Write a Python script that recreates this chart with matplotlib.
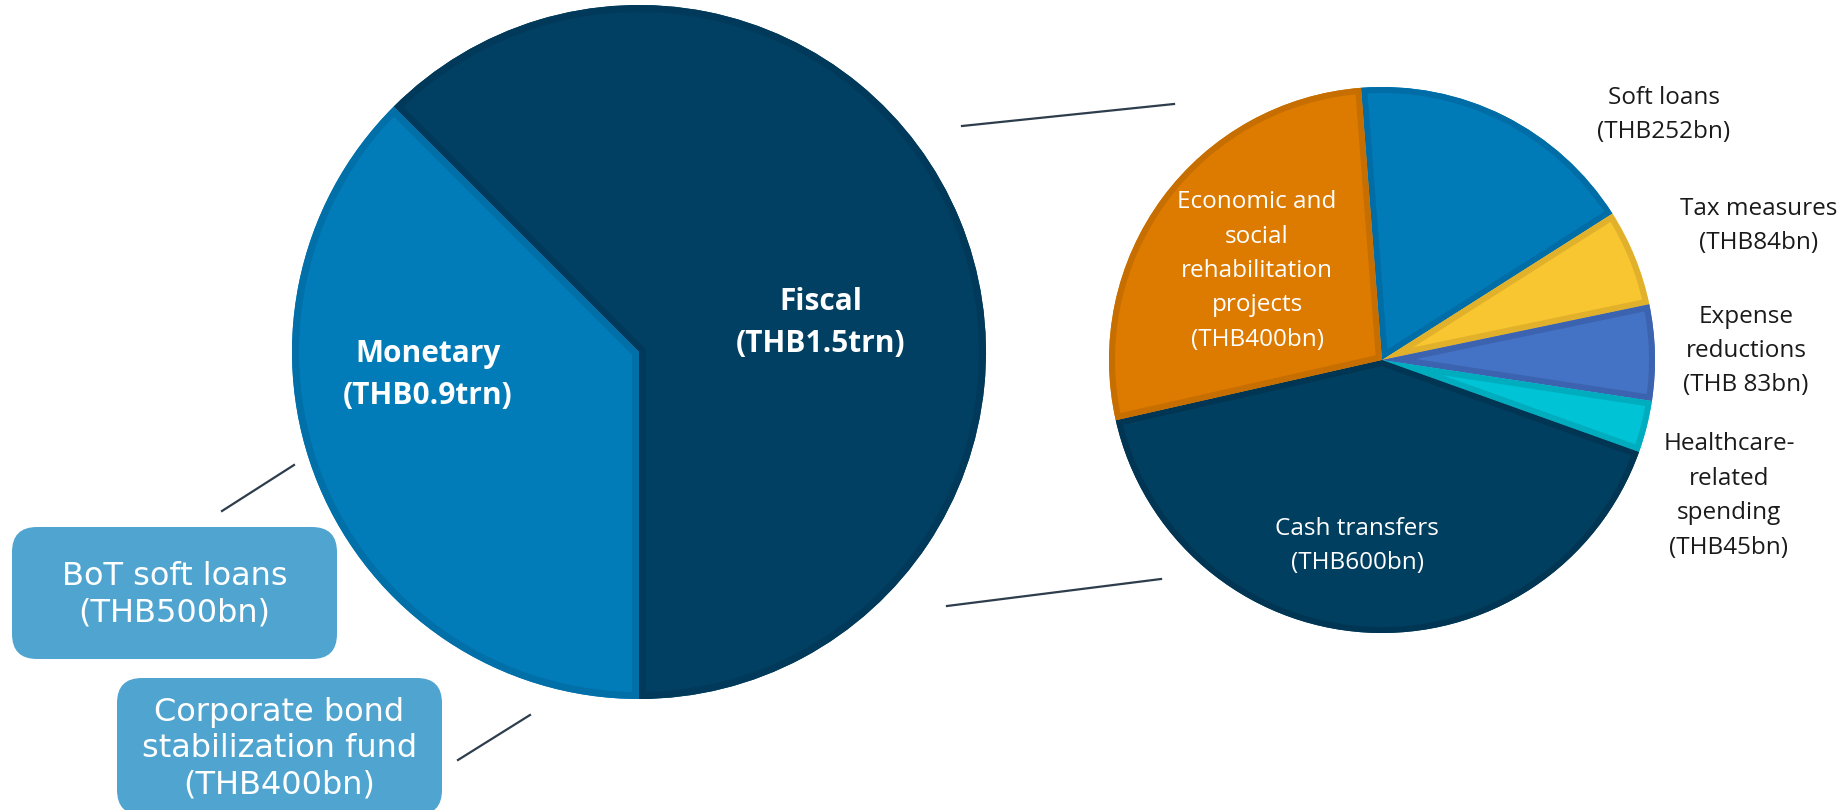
import matplotlib
matplotlib.use('Agg')
import matplotlib.pyplot as plt
from matplotlib.patches import Wedge, FancyBboxPatch

# data (THB)
main_labels = ['Fiscal', 'Monetary']
main_values = [1.5, 0.9]  # trn
main_text = ['(THB1.5trn)', '(THB0.9trn)']

fiscal_labels = ['Soft loans', 'Tax measures', 'Expense\nreductions',
                 'Healthcare-\nrelated\nspending', 'Cash transfers',
                 'Economic and\nsocial\nrehabilitation\nprojects']
fiscal_values = [252, 84, 83, 45, 600, 400]  # bn
fiscal_text = ['(THB252bn)', '(THB84bn)', '(THB 83bn)', '(THB45bn)',
               '(THB600bn)', '(THB400bn)']

monetary_labels = ['BoT soft loans', 'Corporate bond\nstabilization fund']
monetary_values = [500, 400]  # bn
monetary_text = ['(THB500bn)', '(THB400bn)']

W, H = 1845, 810


def Y(y):
    # pixel row (top down) -> data y
    return H - y


def inner_stroke(ax, wedges, edges, width_px):
    # darker border kept inside each wedge
    for w, ec in zip(wedges, edges):
        e = Wedge(w.center, w.r, w.theta1, w.theta2, facecolor='none',
                  edgecolor=ec, linewidth=2 * width_px * 0.72)
        ax.add_patch(e)
        e.set_clip_path(w)


fig = plt.figure(figsize=(W / 100, H / 100), dpi=100)
ax = fig.add_axes([0, 0, 1, 1])

# big pie: fiscal vs monetary
main_colors = ['#014063', '#027CB8']
main_edges = ['#00395A', '#016FA8']
big, _ = ax.pie(main_values, colors=main_colors, startangle=-90, counterclock=True,
                center=(639, Y(352)), radius=347, wedgeprops=dict(linewidth=0))
inner_stroke(ax, big, main_edges, 7)

# small pie: fiscal breakdown
fiscal_colors = ['#017BB8', '#F8C631', '#4472C4', '#00C3D6', '#003F5F', '#DD7B00']
fiscal_edges = ['#006DA6', '#E2B12B', '#3C63AF', '#00ADBE', '#003653', '#C76E00']
small, _ = ax.pie(fiscal_values, colors=fiscal_colors, startangle=94.4, counterclock=False,
                  center=(1382, Y(360)), radius=273, wedgeprops=dict(linewidth=0))
inner_stroke(ax, small, fiscal_edges, 6)

# connector lines
line_kw = dict(color='#2E3D4C', linewidth=1.6)
ax.plot([962, 1174], [Y(126), Y(104)], **line_kw)
ax.plot([947, 1161], [Y(606), Y(579)], **line_kw)
ax.plot([222, 294], [Y(511), Y(465)], **line_kw)
ax.plot([458, 530], [Y(760), Y(715)], **line_kw)

# labels inside the big pie
bold_kw = dict(family='Open Sans', fontweight='bold', fontsize=21.5, color='white',
               ha='center', va='center', linespacing=1.5)
main_pos = [(821, 323), (428, 375)]
for lab, txt, (x, y) in zip(main_labels, main_text, main_pos):
    ax.text(x, Y(y), lab + '\n' + txt, **bold_kw)

# labels for the small pie
reg_kw = dict(family='Open Sans', fontsize=17.5, ha='center', va='center', linespacing=1.58)
fiscal_pos = [(1664, 115), (1759, 226), (1746, 351), (1729, 496), (1357, 546), (1257, 271)]
fiscal_inside = [False, False, False, False, True, True]
for lab, txt, (x, y), inside in zip(fiscal_labels, fiscal_text, fiscal_pos, fiscal_inside):
    ax.text(x, Y(y), lab + '\n' + txt, color='white' if inside else '#1A1A1A', **reg_kw)

# monetary boxes
boxes = [(12, 527, 337, 659), (117, 678, 442, 815)]
for lab, txt, (x0, y0, x1, y1) in zip(monetary_labels, monetary_text, boxes):
    ax.add_patch(FancyBboxPatch((x0 + 25, Y(y1) + 25), x1 - x0 - 50, y1 - y0 - 50,
                                boxstyle='round,pad=25', facecolor='#50A5D0',
                                edgecolor='none'))
    ax.text((x0 + x1) / 2, Y((y0 + y1) / 2 + 2), lab + '\n' + txt, color='white',
            family='DejaVu Sans', fontsize=23, ha='center', va='center', linespacing=1.22)

ax.set_xlim(0, W)
ax.set_ylim(0, H)
ax.set_aspect('equal')
ax.axis('off')

fig.savefig('out.png', dpi=100)
